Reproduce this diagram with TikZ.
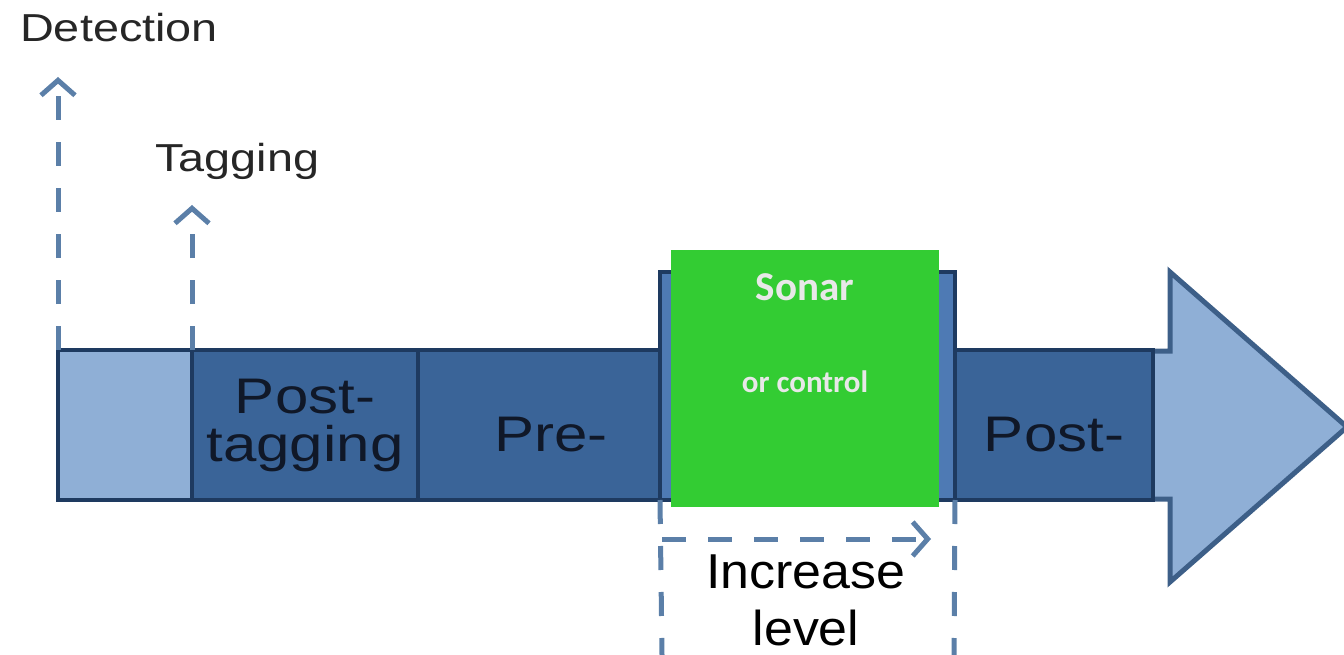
\documentclass[tikz,border=0pt]{standalone}
\usepackage{fontspec}
\setmainfont{Liberation Sans}[FakeStretch=1.2]
\newfontfamily\levelfont{Liberation Sans}[FakeStretch=1.06]
\newfontfamily\sonarfont{Carlito}
\usetikzlibrary{positioning,arrows.meta}
\definecolor{lightbar}{HTML}{8FAFD6}
\definecolor{darkbar}{HTML}{3A6498}
\definecolor{midbar}{HTML}{4E7AB4}
\definecolor{barline}{HTML}{1E3A60}
\definecolor{arrowline}{HTML}{3D5F88}
\definecolor{hintline}{HTML}{5B7FA8}
\definecolor{sonargreen}{HTML}{33CC33}
\definecolor{sonartext}{HTML}{E8E8E8}
\definecolor{labeltext}{HTML}{101828}
\begin{document}
\begin{tikzpicture}[x=1pt,y=-1pt,
    seg/.style={draw=barline,line width=4pt,fill=darkbar,outer sep=0pt,inner sep=0pt,
      minimum height=150pt,text=labeltext,font=\fontsize{50}{48}\selectfont,align=center},
    oneline/.style={text height=52pt,text depth=0pt},
    hint/.style={draw=hintline,line width=5pt,dash pattern=on 24pt off 22pt},
    hintarrow/.style={-{Straight Barb[length=15pt,width=34pt,line width=5pt]}},
    toplabel/.style={anchor=base west,inner sep=0pt,text=black!85,font=\fontsize{39}{44}\selectfont}]
  \useasboundingbox (0,0) rectangle (1344,655);
  % big arrow behind the bar
  \draw[fill=lightbar,draw=arrowline,line width=5pt] (1100,351) -- (1170,351) -- (1170,272)
    -- (1347,427) -- (1170,582) -- (1170,499) -- (1100,499);
  % the bar
  \node[seg,fill=lightbar,minimum width=134pt,anchor=west] (first) at (58,425) {};
  \node[seg,minimum width=226pt,right=0pt of first] (posttag) {Post-\\tagging};
  \node[seg,oneline,minimum width=242pt,right=0pt of posttag] (pre) {\hspace*{24pt}Pre-};
  \node[seg,fill=midbar,minimum width=295pt,minimum height=228pt,anchor=south west] (sonarseg) at (pre.south east) {};
  \node[seg,oneline,minimum width=198pt,anchor=south west] (post) at (sonarseg.south east) {Post-};
  % labels and hints
  \node[toplabel] (detection) at (20,42) {Detection};
  \node[toplabel] (tagging) at (155,172) {Tagging};
  \coordinate (dettip) at (58,77);
  \coordinate (tagtip) at (192,205);
  \draw[hint,hintarrow] (first.north west) -- (dettip);
  \draw[hint,hintarrow] (first.north east) -- (tagtip);
  \coordinate (boxleft) at (662,655);
  \coordinate (boxright) at (954,655);
  \draw[hint] (sonarseg.south west) -- (boxleft);
  \draw[hint] (sonarseg.south east) -- (boxright);
  \draw[hint,hintarrow] ([xshift=2pt,yshift=-39pt]sonarseg.south west) -- ([xshift=-24pt,yshift=-39pt]sonarseg.south east);
  \node[font=\levelfont\fontsize{49}{57}\selectfont,align=center] (increase) at (806,600) {Increase\\level};
  % green box
  \node[fill=sonargreen,minimum width=268pt,minimum height=257pt,inner sep=0pt] (green) at (805,378.5) {};
  \node[anchor=base,text=sonartext,font=\sonarfont\bfseries\fontsize{41}{45}\selectfont] (sonar) at (805,300) {Sonar};
  \node[anchor=base,text=sonartext,font=\sonarfont\bfseries\fontsize{31}{35}\selectfont] (control) at (805,392) {or control};
\end{tikzpicture}
\end{document}
